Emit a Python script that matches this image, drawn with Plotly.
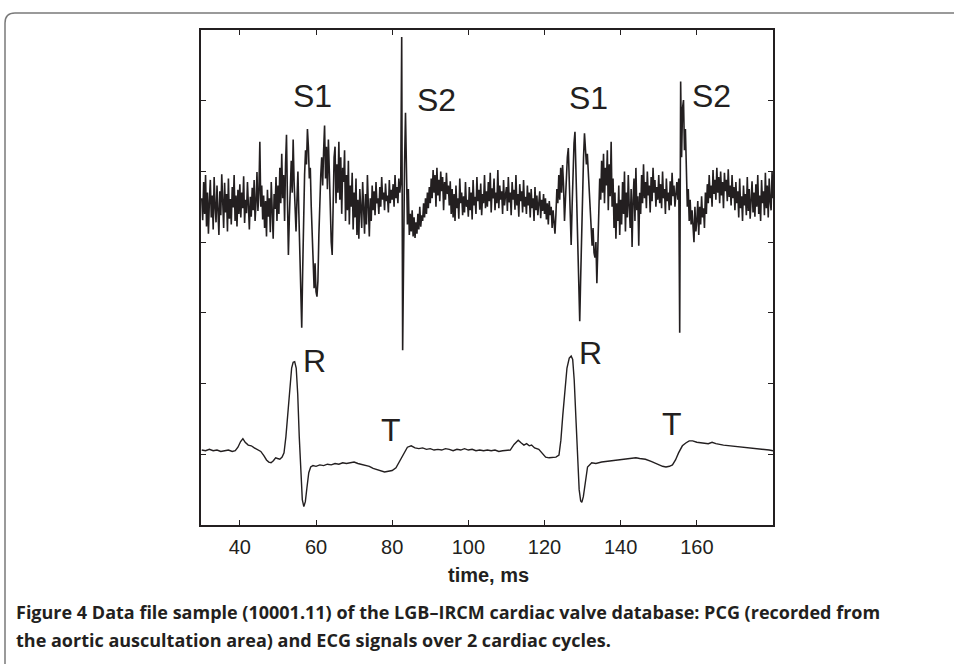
import numpy as np
import plotly.graph_objects as go

# PCG samples (arbitrary units), one every 0.25 ms starting at 30 ms
pcg_v = [
    4.62, 4.31, 4.85, 4.40, 4.95, 4.22, 4.70, 4.12, 4.58, 4.88, 4.35, 4.66, 4.18, 4.92, 4.50, 4.28, 4.80, 4.45, 4.10, 4.72,
    4.38, 4.96, 4.55, 4.20, 4.84, 4.42, 4.68, 4.15, 4.90, 4.33, 4.61, 4.25, 4.78, 4.49, 4.95, 4.30, 4.66, 4.22, 4.74, 4.40,
    4.82, 4.35, 4.70, 4.48, 4.93, 4.27, 4.60, 4.41, 4.85, 4.52, 4.18, 4.64, 4.36, 4.77, 4.45, 4.88, 4.30, 4.57, 4.99, 4.44,
    4.70, 5.42, 4.50, 4.80, 4.32, 4.66, 4.20, 4.58, 4.08, 4.74, 4.36, 4.62, 4.14, 4.85, 4.40, 4.05, 4.68, 4.47, 4.92, 4.30,
    4.80, 4.40, 5.05, 4.55, 5.25, 4.62, 4.95, 4.30, 5.10, 5.52, 4.60, 3.82, 4.35, 4.90, 5.15, 4.70, 5.45, 4.85, 4.30, 4.15,
    4.60, 5.00, 4.40, 3.70, 3.10, 2.79, 3.60, 4.50, 4.95, 5.30, 5.10, 5.60, 5.35, 4.90, 5.05, 4.50, 4.05, 3.60, 3.35, 3.70,
    3.30, 3.23, 3.45, 4.10, 4.70, 4.95, 5.20, 4.80, 5.30, 5.65, 4.90, 5.35, 4.75, 5.45, 5.00, 4.40, 4.00, 3.82, 4.60, 5.20,
    5.35, 4.55, 5.10, 4.70, 5.42, 4.60, 5.20, 4.40, 5.05, 4.85, 5.30, 4.30, 4.95, 4.45, 5.15, 4.25, 4.80, 4.50, 4.98, 4.18,
    4.70, 4.35, 4.90, 4.10, 4.60, 4.05, 4.75, 4.30, 4.20, 4.85, 4.40, 4.12, 4.68, 4.25, 4.95, 4.38, 4.08, 4.62, 4.30, 4.80,
    4.45, 4.72, 4.38, 4.85, 4.55, 4.62, 4.40, 4.78, 4.50, 4.92, 4.60, 4.70, 4.45, 4.83, 4.58, 4.66, 4.42, 4.88, 4.55, 4.74,
    4.60, 4.82, 4.50, 4.95, 4.62, 4.78, 4.55, 4.90, 4.70, 4.85, 6.90, 2.47, 4.50, 5.10, 5.83, 4.60, 4.25, 4.75, 4.10, 4.40,
    4.15, 4.45, 4.08, 4.35, 4.06, 4.28, 4.12, 4.40, 4.18, 4.50, 4.22, 4.38, 4.30, 4.55, 4.35, 4.62, 4.40, 4.70, 4.48, 4.78,
    4.55, 4.90, 4.62, 5.02, 4.70, 4.95, 4.50, 5.05, 4.66, 4.88, 4.58, 5.00, 4.72, 4.92, 4.45, 4.85, 4.60, 4.98, 4.68, 4.80,
    4.52, 4.86, 4.40, 4.75, 4.35, 4.68, 4.30, 4.80, 4.48, 4.62, 4.33, 4.90, 4.55, 4.70, 4.38, 4.65, 4.42, 4.85, 4.50, 4.60,
    4.36, 4.78, 4.45, 4.70, 4.32, 4.88, 4.52, 4.64, 4.40, 4.92, 4.58, 4.74, 4.46, 4.83, 4.38, 4.68, 4.55, 4.95, 4.48, 4.72,
    4.50, 4.85, 4.58, 4.98, 4.42, 4.76, 4.62, 4.90, 4.45, 4.70, 4.55, 5.02, 4.48, 4.80, 4.60, 4.72, 4.40, 4.88, 4.52, 4.66,
    4.78, 4.44, 4.92, 4.56, 4.70, 4.38, 4.85, 4.60, 4.74, 4.46, 4.95, 4.52, 4.68, 4.36, 4.82, 4.58, 4.72, 4.42, 4.88, 4.50,
    4.64, 4.40, 4.80, 4.52, 4.70, 4.35, 4.75, 4.48, 4.62, 4.30, 4.78, 4.45, 4.66, 4.38, 4.58, 4.72, 4.34, 4.60, 4.44, 4.68,
    4.40, 4.62, 4.32, 4.55, 4.25, 4.58, 4.38, 4.50, 4.20, 4.45, 4.28, 4.12, 4.40, 4.75, 4.55, 4.95, 4.60, 5.05, 4.70, 5.09,
    4.80, 4.30, 4.60, 5.00, 5.20, 5.33, 4.90, 4.40, 3.96, 4.50, 5.10, 5.40, 5.56, 5.00, 4.60, 4.00, 3.40, 2.88, 3.50, 4.20,
    4.75, 5.20, 5.54, 5.30, 5.10, 5.25, 5.00, 4.70, 4.40, 4.10, 3.95, 4.20, 3.85, 3.78, 4.00, 3.42, 3.90, 4.50, 4.90, 4.60,
    5.15, 4.70, 5.25, 4.55, 5.05, 4.80, 5.30, 4.45, 5.10, 4.65, 5.42, 4.50, 4.90, 4.20, 4.70, 4.05, 4.55, 4.30, 4.80, 4.10,
    4.60, 4.25, 4.85, 4.40, 5.00, 4.15, 4.70, 4.35, 4.95, 4.50, 4.20, 4.75, 3.93, 4.60, 4.90, 4.30, 5.05, 4.45, 4.65, 3.95,
    4.70, 4.40, 4.95, 4.55, 5.10, 4.62, 4.85, 4.48, 5.00, 4.66, 4.80, 4.42, 4.92, 4.58, 5.05, 4.70, 4.88, 4.50, 4.78, 4.60,
    4.95, 4.55, 4.82, 4.48, 5.00, 4.62, 4.75, 4.40, 4.90, 4.58, 4.70, 4.45, 4.86, 4.52, 4.98, 4.65, 4.80, 4.50, 4.72, 4.85,
    4.60, 4.90, 2.72, 6.27, 5.20, 5.90, 6.01, 5.30, 5.60, 4.90, 4.50, 4.75, 4.30, 4.60, 4.25, 4.45, 4.20, 4.00, 4.50, 4.15,
    4.30, 4.58, 4.10, 4.50, 4.25, 4.65, 4.35, 4.48, 4.20, 4.70, 4.40, 4.82, 4.55, 4.95, 4.62, 4.80, 4.50, 5.02, 4.68, 4.88,
    4.60, 5.05, 4.70, 4.92, 4.55, 5.00, 4.66, 4.85, 4.48, 4.98, 4.72, 4.88, 4.58, 5.03, 4.64, 4.80, 4.52, 4.95, 4.62, 4.78,
    4.45, 4.85, 4.55, 4.72, 4.35, 4.90, 4.48, 4.65, 4.30, 4.80, 4.52, 4.68, 4.38, 4.92, 4.44, 4.75, 4.33, 4.60, 4.86, 4.42,
    4.70, 4.36, 4.82, 4.50, 4.95, 4.40, 4.66, 4.30, 4.88, 4.55, 4.72, 4.38, 4.98, 4.48, 4.80, 4.35, 4.90, 4.58, 4.45, 5.00,
    4.62,
]
pcg_t = 30 + 0.25 * np.arange(len(pcg_v))

# ECG trace (time ms, value)
ecg_t = [30, 31, 32, 33, 34, 35, 36, 37, 38, 38.8, 39.5, 40.2, 40.8, 41.4, 42.2, 43.0, 43.8, 44.6,
         45.5, 46.3, 47.0, 47.6, 48.2, 48.8, 49.4, 49.9, 50.5, 51.1, 51.6, 52.1, 52.6, 53.1, 53.6,
         54.0, 54.4, 54.8, 55.2, 55.6, 56.0, 56.4, 56.8, 57.2, 57.6, 58.1, 58.6, 59.2, 60, 61, 62,
         63, 64, 65, 66, 67, 68, 69, 70, 71, 72, 73, 74, 75, 76, 77, 78, 79, 80, 81, 82, 83, 84,
         85, 86, 87, 88, 89, 90, 91, 92, 93, 94, 95, 96, 97, 98, 99, 100, 101, 102, 103, 104, 105,
         106, 107, 108, 109, 110, 111, 112, 113.1, 113.9, 114.6, 115.3, 116.0, 116.6, 117.4, 118.5,
         119.4, 120.3, 121.2, 122.2, 123.0, 123.8, 124.3, 124.8, 125.4, 125.9, 126.5, 127.0, 127.4,
         127.8, 128.3, 128.7, 129.1, 129.5, 129.8, 130.2, 130.7, 131.3, 132.4, 133.5, 135, 136.5,
         138, 139.5, 141, 142.5, 144, 145, 146.5, 148, 149.5, 151, 151.9, 152.8, 153.6, 154.4,
         155.2, 156.2, 157.1, 158.0, 158.9, 160, 161.5, 163, 164, 165, 167, 169, 171, 173, 175,
         177, 179, 180]
ecg_v = [1.06, 1.05, 1.07, 1.05, 1.06, 1.04, 1.05, 1.06, 1.04, 1.05, 1.10, 1.18, 1.22, 1.17, 1.13,
         1.12, 1.09, 1.07, 1.04, 0.98, 0.92, 0.89, 0.88, 0.91, 0.95, 0.94, 0.93, 0.96, 1.02, 1.25,
         1.60, 1.98, 2.22, 2.30, 2.31, 2.22, 1.85, 1.25, 0.70, 0.36, 0.26, 0.33, 0.52, 0.74, 0.82,
         0.84, 0.83, 0.85, 0.84, 0.86, 0.85, 0.87, 0.86, 0.88, 0.87, 0.88, 0.89, 0.87, 0.86, 0.84,
         0.83, 0.80, 0.78, 0.76, 0.75, 0.76, 0.77, 0.81, 0.90, 1.00, 1.10, 1.12, 1.09, 1.08, 1.09,
         1.07, 1.08, 1.06, 1.07, 1.06, 1.08, 1.07, 1.05, 1.07, 1.06, 1.08, 1.06, 1.07, 1.05, 1.06,
         1.05, 1.06, 1.05, 1.06, 1.04, 1.05, 1.06, 1.06, 1.14, 1.20, 1.16, 1.13, 1.15, 1.12, 1.13,
         1.09, 1.07, 1.02, 0.96, 0.95, 0.96, 0.96, 0.99, 1.20, 1.55, 1.95, 2.22, 2.36, 2.39, 2.34,
         2.05, 1.45, 0.90, 0.50, 0.34, 0.32, 0.40, 0.62, 0.82, 0.88, 0.87, 0.89, 0.90, 0.91, 0.92,
         0.93, 0.94, 0.95, 0.94, 0.93, 0.90, 0.86, 0.83, 0.82, 0.83, 0.85, 0.92, 1.02, 1.12, 1.16,
         1.19, 1.19, 1.17, 1.16, 1.15, 1.17, 1.15, 1.13, 1.12, 1.10, 1.09, 1.08, 1.07, 1.06, 1.05]

# wave labels
label_text = ["S1", "S2", "S1", "S2", "R", "T", "R", "T"]
label_x = [59.2, 91.6, 131.5, 163.9, 59.7, 79.8, 132.0, 153.6]
label_y = [6.07, 6.01, 6.04, 6.06, 2.32, 1.35, 2.43, 1.43]

caption = ["Figure 4 Data file sample (10001.11) of the LGB\u2013IRCM cardiac valve database: PCG (recorded from",
           "the aortic auscultation area) and ECG signals over 2 cardiac cycles."]

W, H = 954, 664
L, R, T, B = 201, 773, 30, 525
ink = "#231f20"


def px(x):
    return (x - L) / (R - L)


def py(y):
    return (B - y) / (B - T)


fig = go.Figure()
fig.add_trace(go.Scatter(x=pcg_t, y=pcg_v, mode="lines",
                         line=dict(color=ink, width=1.6), hoverinfo="skip"))
fig.add_trace(go.Scatter(x=ecg_t, y=ecg_v, mode="lines",
                         line=dict(color=ink, width=1.4), hoverinfo="skip"))

for t, x, y in zip(label_text, label_x, label_y):
    fig.add_annotation(x=x, y=y, text=t, showarrow=False,
                       font=dict(family="Liberation Sans, Arial", size=32, color=ink))

fig.add_annotation(xref="paper", yref="paper", x=px(488), y=py(575), yanchor="middle",
                   text="<b>time, ms</b>", showarrow=False,
                   font=dict(family="Liberation Sans, Arial", size=20, color=ink))
for i, line in enumerate(caption):
    fig.add_annotation(xref="paper", yref="paper", x=px(14), y=py(612 + 28 * i),
                       xanchor="left", yanchor="middle",
                       text="<b>" + line + "</b>", showarrow=False,
                       font=dict(family="Open Sans", size=18, color=ink))

# outer rounded frame
frame = "M %f,%f L %f,%f Q %f,%f %f,%f L %f,%f" % (
    px(5), py(700), px(5), py(23), px(5), py(13), px(15), py(13), px(1000), py(13))
fig.add_shape(type="path", xref="paper", yref="paper", path=frame,
              line=dict(color="#7a7a7a", width=1.5))

axis_common = dict(showline=True, mirror="allticks", linecolor=ink, linewidth=1.5,
                   ticks="inside", ticklen=5, tickcolor=ink, showgrid=False, zeroline=False)
fig.update_xaxes(range=[29.8, 180], tickmode="array", tickvals=[40, 60, 80, 100, 120, 140, 160],
                 ticklabelstandoff=3,
                 tickfont=dict(family="Liberation Sans, Arial", size=20, color=ink), **axis_common)
fig.update_yaxes(range=[0, 7], dtick=1, showticklabels=False, **axis_common)

fig.update_layout(width=W, height=H, autosize=False, showlegend=False,
                  margin=dict(l=L, r=W - R, t=T, b=H - B),
                  plot_bgcolor="white", paper_bgcolor="white")

fig.write_html("out.html", config={"displayModeBar": False},
               post_script="document.body.style.margin='0';")
